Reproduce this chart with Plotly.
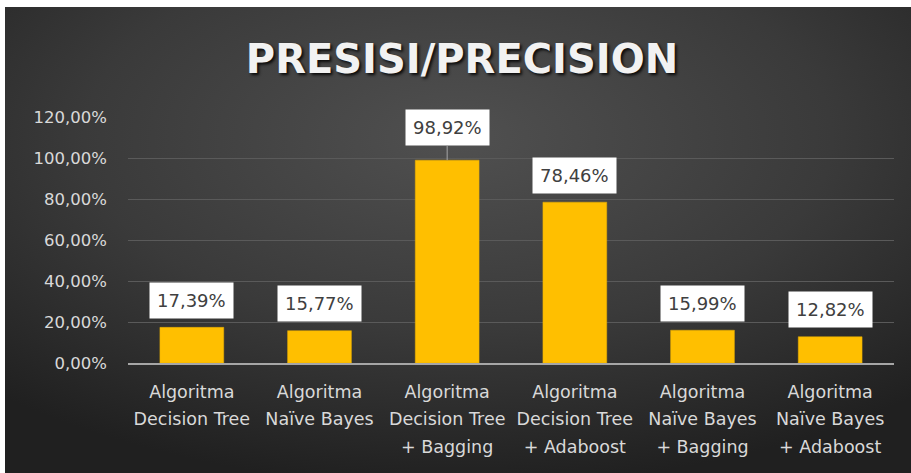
import base64
import plotly.graph_objects as go

# ---- data ----
categories = [
    "Algoritma<br>Decision Tree",
    "Algoritma<br>Naïve Bayes",
    "Algoritma<br>Decision Tree<br>+ Bagging",
    "Algoritma<br>Decision Tree<br>+ Adaboost",
    "Algoritma<br>Naïve Bayes<br>+ Bagging",
    "Algoritma<br>Naïve Bayes<br>+ Adaboost",
]
precision = [0.1739, 0.1577, 0.9892, 0.7846, 0.1599, 0.1282]
label_texts = ["17,39%", "15,77%", "98,92%", "78,46%", "15,99%", "12,82%"]
y_ticks = [0, 0.2, 0.4, 0.6, 0.8, 1.0, 1.2]
title_text = "PRESISI/PRECISION"

W, H = 911, 473
ML, MR, MT, MB = 128, 17, 117, 110
PW, PH = W - ML - MR, H - MT - MB

svg = (
    '<svg xmlns="http://www.w3.org/2000/svg" width="906" height="466" preserveAspectRatio="none">'
    '<defs><radialGradient id="g" cx="50%" cy="28%" r="75%" fx="50%" fy="28%">'
    '<stop offset="0%" stop-color="#505050"/>'
    '<stop offset="55%" stop-color="#3a3a3a"/>'
    '<stop offset="100%" stop-color="#202020"/>'
    '</radialGradient></defs>'
    '<rect width="906" height="466" fill="url(#g)"/></svg>'
)
bg_src = "data:image/svg+xml;base64," + base64.b64encode(svg.encode()).decode()

# category tick text: wider line spacing via larger base font, smaller glyphs
tick_text = [
    "<br>".join('<span style="font-size:17.5px">' + ln + "</span>" for ln in c.split("<br>"))
    for c in categories
]

fig = go.Figure()
fig.add_trace(go.Bar(
    x=categories, y=precision,
    marker=dict(color="#FFBF00", line=dict(color="#E6AC00", width=0.5)),
    width=0.5, hoverinfo="skip",
))

annotations = []
for i, (c, v, t) in enumerate(zip(categories, precision, label_texts)):
    lead = v > 0.9
    annotations.append(dict(
        x=c, y=v, xref="x", yref="y", text=t,
        showarrow=True, ax=0, ay=-33 if lead else -27,
        arrowhead=0, arrowwidth=1,
        arrowcolor="#a6a6a6" if lead else "rgba(0,0,0,0)",
        bgcolor="#ffffff", borderpad=7,
        font=dict(family="DejaVu Sans", size=18, color="#404040"),
    ))

fig.update_layout(
    width=W, height=H,
    margin=dict(l=ML, r=MR, t=MT, b=MB),
    paper_bgcolor="#ffffff", plot_bgcolor="rgba(0,0,0,0)",
    separators=",.",
    showlegend=False,
    bargap=0.5,
    title=dict(
        text="<b>" + title_text + "</b>",
        x=462 / W, xanchor="center", y=1 - 59 / H, yanchor="middle",
        font=dict(family="DejaVu Sans", size=40, color="#f2f2f2",
                  shadow="2px 2px 3px rgba(0,0,0,0.85)"),
    ),
    images=[dict(
        source=bg_src, xref="paper", yref="paper",
        x=(5 - ML) / PW, y=(MT + PH - 7) / PH,
        sizex=(W - 5) / PW, sizey=(H - 7) / PH,
        xanchor="left", yanchor="top", sizing="stretch", layer="below",
    )],
    annotations=annotations,
    xaxis=dict(
        tickvals=categories, ticktext=tick_text,
        showgrid=False, showline=True, linecolor="#a6a6a6", linewidth=1.5,
        ticks="", ticklabelstandoff=8,
        tickfont=dict(family="DejaVu Sans", size=21, color="#d9d9d9"),
        fixedrange=True,
    ),
    yaxis=dict(
        range=[0, 1.2], tickvals=y_ticks, tickformat=".2%",
        showgrid=True, gridcolor="#5a5a5a", gridwidth=1,
        zeroline=False, showline=False, ticks="",
        ticklabelstandoff=20,
        tickfont=dict(family="DejaVu Sans", size=16.5, color="#d9d9d9"),
        fixedrange=True,
    ),
)

fig.write_html("out.html", config={"displayModeBar": False})
